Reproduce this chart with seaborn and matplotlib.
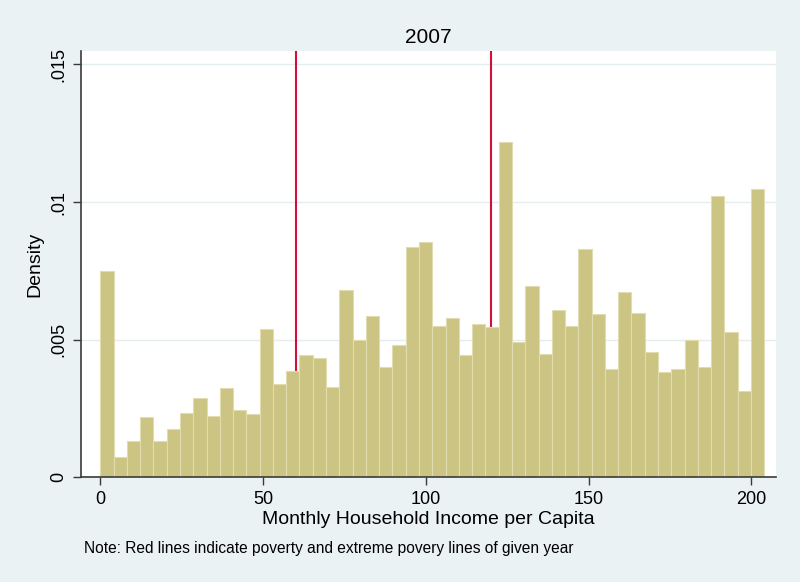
import numpy as np
import pandas as pd
import seaborn as sns
import matplotlib.pyplot as plt

# Histogram values (density per bin)
year = "2007"
bin_start = 0
bin_width = 4.08
density = [
    0.00750, 0.00073, 0.00132, 0.00218, 0.00132, 0.00174, 0.00232, 0.00289,
    0.00223, 0.00323, 0.00245, 0.00230, 0.00538, 0.00338, 0.00387, 0.00443,
    0.00432, 0.00327, 0.00679, 0.00499, 0.00586, 0.00402, 0.00481, 0.00837,
    0.00856, 0.00550, 0.00578, 0.00443, 0.00557, 0.00545, 0.01219, 0.00491,
    0.00695, 0.00448, 0.00608, 0.00550, 0.00829, 0.00593, 0.00392, 0.00672,
    0.00596, 0.00455, 0.00384, 0.00395, 0.00499, 0.00402, 0.01021, 0.00529,
    0.00313, 0.01046,
]
poverty_lines = [60, 120]
x_ticks = [0, 50, 100, 150, 200]
y_ticks = [0, 0.005, 0.01, 0.015]
y_tick_labels = ["0", ".005", ".01", ".015"]
note = "Note: Red lines indicate poverty and extreme povery lines of given year"

edges = bin_start + bin_width * np.arange(len(density) + 1)
df = pd.DataFrame({"income": edges[:-1] + bin_width / 2, "density": density})

sns.set_style("white")
plt.rcParams["font.family"] = ["Liberation Sans", "DejaVu Sans"]
plt.rcParams["text.color"] = "black"
plt.rcParams["axes.labelcolor"] = "black"
plt.rcParams["xtick.color"] = "black"
plt.rcParams["ytick.color"] = "black"

bg = "#eaf2f3"
axis_col = "#3a3a3a"

fig = plt.figure(figsize=(8, 5.82), dpi=100, facecolor=bg)
ax = fig.add_axes([0.10125, 0.18, 0.86875, 0.7325])
ax.set_facecolor("white")

sns.histplot(data=df, x="income", weights="density", bins=edges.tolist(), stat="count",
             color="#cbc482", alpha=1, edgecolor="#e2ddb0", linewidth=0.8,
             ax=ax, zorder=2)

# poverty lines sit behind the bars
for v in poverty_lines:
    ax.axvline(v, color="#d0103a", lw=1.5, zorder=1)

ax.set_xlim(-5.93, 207.6)
ax.set_ylim(0, 0.01549)
ax.set_xticks(x_ticks, [str(t) for t in x_ticks])
ax.set_yticks(y_ticks, y_tick_labels)
for lab in ax.get_yticklabels():
    lab.set_rotation(90)
    lab.set_va("center")

ax.set_axisbelow(True)
ax.yaxis.grid(True, color="#e4edf0", lw=1)
ax.xaxis.grid(False)

for s in ["top", "right"]:
    ax.spines[s].set_visible(False)
for s in ["left", "bottom"]:
    ax.spines[s].set_color(axis_col)
    ax.spines[s].set_linewidth(1.2)

ax.tick_params(direction="out", length=6, width=1, color=axis_col,
               labelcolor="black", labelsize=13, pad=4, left=True, bottom=True)

ax.set_title(year, fontsize=15, pad=6, color="black")
ax.set_xlabel("Monthly Household Income per Capita", fontsize=14, labelpad=2)
ax.set_ylabel("Density", fontsize=14, labelpad=5)

fig.text(83.6 / 800, 1 - 552.7 / 582, note, fontsize=11.2, va="baseline")

fig.savefig("out.png", dpi=100, facecolor=bg)
